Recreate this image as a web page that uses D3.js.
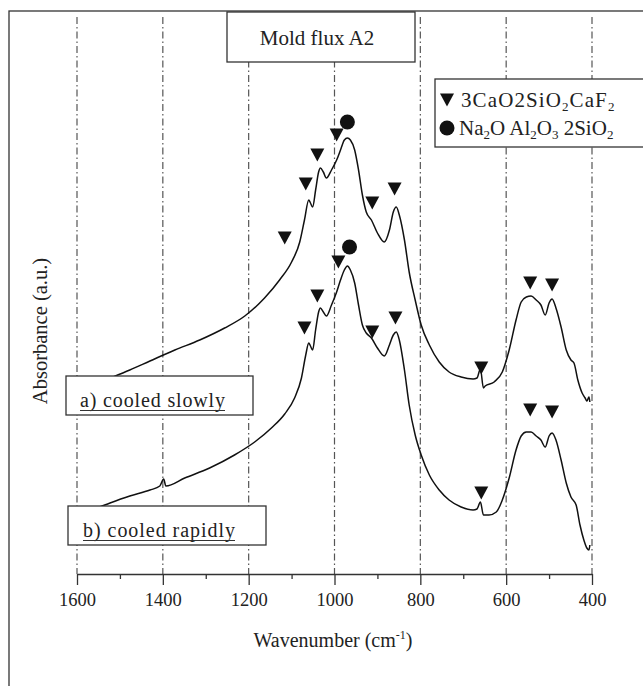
<!DOCTYPE html>
<html>
<head>
<meta charset="utf-8">
<script src="https://cdn.jsdelivr.net/npm/d3@7"></script>
<style>
  body { margin: 0; background: #fff; }
  svg text { font-family: "Liberation Serif", "Times New Roman", serif; fill: #222; }
</style>
</head>
<body>
<svg id="chart" width="643" height="686"></svg>
<script>
  // wavenumber ticks
  var xTicks = [1600, 1400, 1200, 1000, 800, 600, 400],
      xMinorTicks = [1500, 1300, 1100, 900, 700, 500];

  // a) cooled slowly
  var slowWn = [1516, 1477, 1430, 1372, 1314, 1256, 1209, 1163, 1128, 1100, 1081, 1070, 1060, 1056, 1051,
                1044, 1037, 1033, 1026, 1019, 1007, 995, 986, 977, 970, 963, 953, 944, 935, 926, 914, 900,
                884, 872, 863, 856, 849, 837, 826, 812, 798, 779, 756, 733, 705, 677, 668, 660, 653, 649,
                628, 609, 593, 577, 565, 553, 542, 530, 519, 509, 500, 493, 484, 472, 460, 449, 442, 433,
                423, 416, 412, 407, 405],
      slowAbs = [1.97, 2.04, 2.13, 2.24, 2.34, 2.46, 2.58, 2.76, 2.94, 3.12, 3.32, 3.54, 3.74, 3.71, 3.67,
                 3.84, 4.02, 4.06, 4.02, 3.96, 4.04, 4.14, 4.24, 4.34, 4.36, 4.34, 4.24, 4.04, 3.79, 3.62,
                 3.54, 3.41, 3.32, 3.44, 3.62, 3.67, 3.59, 3.34, 3.02, 2.74, 2.49, 2.29, 2.12, 2.02, 1.97,
                 1.95, 1.96, 2.05, 1.86, 1.88, 1.92, 2.02, 2.24, 2.54, 2.72, 2.77, 2.78, 2.74, 2.69, 2.59,
                 2.71, 2.75, 2.66, 2.47, 2.24, 2.14, 2.11, 1.94, 1.81, 1.76, 1.73, 1.77, 1.72];

  // b) cooled rapidly
  var rapidWn = [1553, 1523, 1477, 1430, 1407, 1398, 1393, 1349, 1291, 1233, 1186, 1147, 1116, 1093, 1077,
                 1067, 1060, 1056, 1051, 1044, 1037, 1033, 1026, 1019, 1007, 995, 986, 977, 970, 963, 953,
                 944, 935, 926, 914, 900, 884, 872, 863, 856, 849, 837, 826, 812, 798, 779, 756, 733, 705,
                 677, 668, 660, 653, 640, 623, 609, 593, 577, 565, 553, 542, 530, 519, 509, 500, 493, 484,
                 472, 460, 449, 437, 428, 419, 412, 407, 405],
      rapidAbs = [0.66, 0.71, 0.78, 0.84, 0.88, 0.95, 0.88, 0.96, 1.06, 1.19, 1.32, 1.46, 1.60, 1.76, 1.96,
                  2.19, 2.31, 2.28, 2.24, 2.44, 2.62, 2.66, 2.62, 2.58, 2.69, 2.82, 2.94, 3.04, 3.08, 3.04,
                  2.91, 2.69, 2.49, 2.41, 2.36, 2.26, 2.18, 2.29, 2.39, 2.42, 2.34, 2.04, 1.69, 1.39, 1.19,
                  0.99, 0.84, 0.74, 0.67, 0.64, 0.65, 0.72, 0.59, 0.59, 0.62, 0.74, 0.96, 1.24, 1.38, 1.42,
                  1.42, 1.38, 1.34, 1.27, 1.38, 1.41, 1.34, 1.14, 0.91, 0.77, 0.69, 0.49, 0.34, 0.26, 0.24,
                  0.29];

  // peak markers: 3CaO.2SiO2.CaF2 (triangles) and Na2O.Al2O3.2SiO2 (circles)
  var slowTriWn = [1116, 1067, 1040, 995, 912, 860, 658, 544, 493],
      slowTriAbs = [3.36, 3.90, 4.19, 4.39, 3.71, 3.85, 2.06, 2.91, 2.89],
      slowDotWn = [970], slowDotAbs = [4.52],
      rapidTriWn = [1070, 1040, 991, 912, 858, 658, 544, 493],
      rapidTriAbs = [2.46, 2.78, 3.12, 2.42, 2.56, 0.81, 1.64, 1.62],
      rapidDotWn = [965], rapidDotAbs = [3.27];

  var svg = d3.select('#chart'),
      x = d3.scaleLinear().domain([1600, 400]).range([77, 592]),
      y = d3.scaleLinear().domain([0, 5.6]).range([574, 14]),
      axisY = y(0),

      zip = function(a, b) {
        return a.map(function(v, i) { return [v, b[i]]; });
      },

      line = d3.line()
        .x(function(d) { return x(d[0]); })
        .y(function(d) { return y(d[1]); })
        .curve(d3.curveMonotoneX),

      triangle = 'M-7,-6.5L7,-6.5L0,6.5Z';

  // outer frame
  svg.append('rect')
    .attr('x', 9).attr('y', 11).attr('width', 700).attr('height', 700)
    .attr('fill', 'none').attr('stroke', '#333').attr('stroke-width', 1.3);

  // dash-dot grid
  svg.append('g')
    .selectAll('line')
    .data(xTicks)
    .enter()
      .append('line')
      .attr('x1', function(d) { return x(d); })
      .attr('x2', function(d) { return x(d); })
      .attr('y1', 17)
      .attr('y2', axisY)
      .attr('stroke', '#555')
      .attr('stroke-width', 1.2)
      .attr('stroke-dasharray', '7,3,1.5,3');

  // curves
  [zip(slowWn, slowAbs), zip(rapidWn, rapidAbs)].forEach(function(pts) {
    svg.append('path')
      .attr('d', line(pts))
      .attr('fill', 'none')
      .attr('stroke', '#111')
      .attr('stroke-width', 1.5);
  });

  // markers
  var tris = zip(slowTriWn, slowTriAbs).concat(zip(rapidTriWn, rapidTriAbs)),
      dots = zip(slowDotWn, slowDotAbs).concat(zip(rapidDotWn, rapidDotAbs));

  svg.append('g').selectAll('path')
    .data(tris)
    .enter()
      .append('path')
      .attr('d', triangle)
      .attr('transform', function(d) { return 'translate(' + x(d[0]) + ',' + y(d[1]) + ')'; })
      .attr('fill', '#111');

  svg.append('g').selectAll('circle')
    .data(dots)
    .enter()
      .append('circle')
      .attr('cx', function(d) { return x(d[0]); })
      .attr('cy', function(d) { return y(d[1]); })
      .attr('r', 7.5)
      .attr('fill', '#111');

  // x axis
  var axis = svg.append('g')
    .attr('transform', 'translate(0,' + axisY + ')')
    .call(d3.axisBottom(x).tickValues(xTicks).tickSize(11).tickSizeOuter(0).tickPadding(8)
      .tickFormat(d3.format('d')));
  axis.select('.domain').attr('stroke', '#333').attr('stroke-width', 1.3);
  axis.selectAll('.tick line').attr('stroke', '#333').attr('stroke-width', 1.3);
  axis.selectAll('.tick text')
    .attr('font-family', '"Liberation Serif", serif')
    .attr('font-size', 18.5)
    .attr('fill', '#222');

  var minor = svg.append('g')
    .attr('transform', 'translate(0,' + axisY + ')')
    .call(d3.axisBottom(x).tickValues(xMinorTicks).tickSize(5).tickFormat(''));
  minor.select('.domain').remove();
  minor.selectAll('.tick line').attr('stroke', '#333').attr('stroke-width', 1.3);

  // axis titles
  var xt = svg.append('text')
    .attr('x', 333).attr('y', 647)
    .attr('text-anchor', 'middle')
    .attr('font-size', 20);
  xt.append('tspan').text('Wavenumber (cm');
  xt.append('tspan').attr('font-size', 12).attr('dy', -8).text('-1');
  xt.append('tspan').attr('dy', 8).text(')');

  svg.append('text')
    .attr('transform', 'translate(47,331) rotate(-90)')
    .attr('text-anchor', 'middle')
    .attr('font-size', 20.5)
    .text('Absorbance (a.u.)');

  // title box
  svg.append('rect')
    .attr('x', 227).attr('y', 12).attr('width', 188).attr('height', 50)
    .attr('fill', '#fff').attr('stroke', '#333').attr('stroke-width', 1.3);
  svg.append('text')
    .attr('x', 317).attr('y', 45)
    .attr('text-anchor', 'middle')
    .attr('font-size', 21)
    .text('Mold flux A2');

  // legend
  svg.append('rect')
    .attr('x', 435).attr('y', 79).attr('width', 230).attr('height', 68)
    .attr('fill', '#fff').attr('stroke', '#333').attr('stroke-width', 1.3);
  svg.append('path')
    .attr('d', triangle)
    .attr('transform', 'translate(447,100)')
    .attr('fill', '#111');
  svg.append('circle')
    .attr('cx', 447).attr('cy', 128).attr('r', 7.5)
    .attr('fill', '#111');

  var subText = function(tx, ty, spacing, parts) {
    var t = svg.append('text').attr('x', tx).attr('y', ty).attr('font-size', 21)
      .attr('letter-spacing', spacing);
    parts.forEach(function(p) {
      if (p[1])
        t.append('tspan').attr('font-size', 13).attr('dy', 4).text(p[0]);
      else
        t.append('tspan').attr('dy', p[2] ? -4 : 0).text(p[0]);
    });
    return t;
  };

  subText(461, 107, 1.1, [['3CaO2SiO'], ['2', true], ['CaF', false, true], ['2', true]]);
  subText(459, 135, 0, [['Na'], ['2', true], ['O Al', false, true], ['2', true], ['O', false, true],
    ['3', true], [' 2SiO', false, true], ['2', true]]);

  // sample labels
  var labelBox = function(bx, by, bw, text, tx, ty, tw) {
    svg.append('rect')
      .attr('x', bx).attr('y', by).attr('width', bw).attr('height', 39)
      .attr('fill', '#fff').attr('stroke', '#333').attr('stroke-width', 1.3);
    svg.append('text')
      .attr('x', tx).attr('y', ty)
      .attr('font-size', 20)
      .attr('textLength', tw)
      .attr('lengthAdjust', 'spacing')
      .text(text);
    svg.append('line')
      .attr('x1', tx).attr('x2', tx + tw)
      .attr('y1', ty + 3.5).attr('y2', ty + 3.5)
      .attr('stroke', '#333').attr('stroke-width', 1);
  };

  labelBox(66, 376, 187, 'a) cooled slowly', 80, 407, 145);
  labelBox(68, 506, 198, 'b) cooled rapidly', 83, 537, 152);
</script>
</body>
</html>
